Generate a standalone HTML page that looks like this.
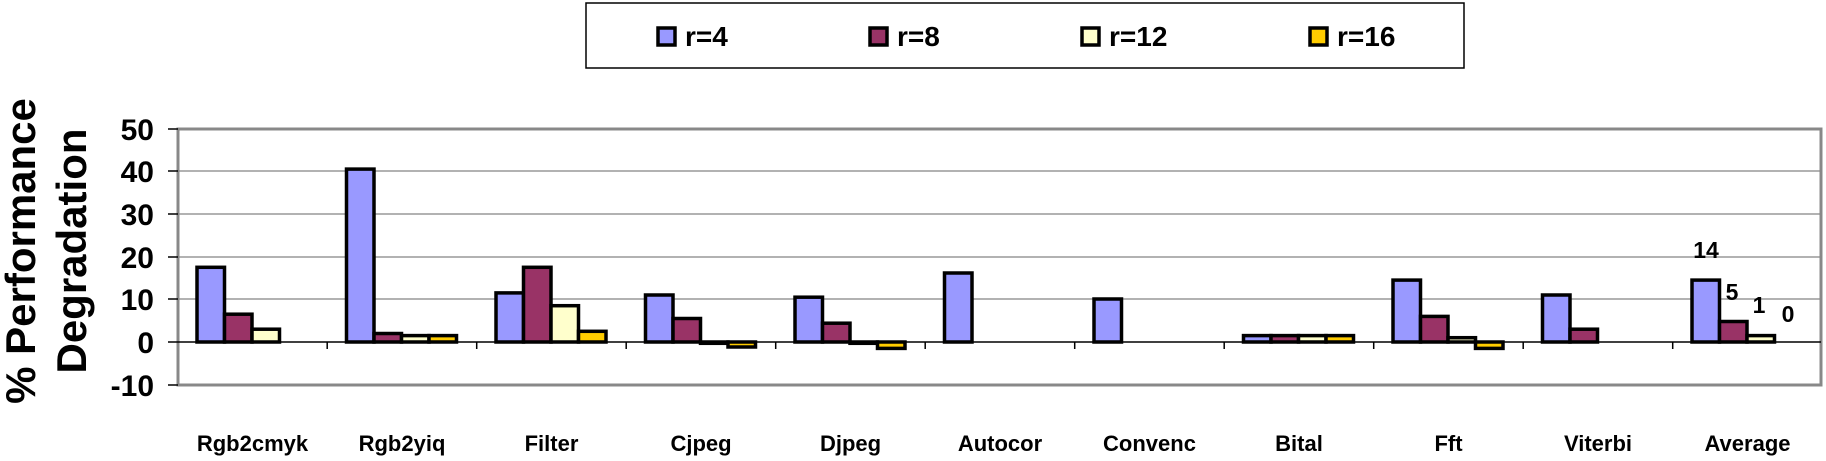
<!DOCTYPE html>
<html><head><meta charset="utf-8"><style>
html,body{margin:0;padding:0;background:#fff;}
svg{display:block;font-family:"Liberation Sans",Arial,sans-serif;font-weight:bold;}
</style></head><body>
<svg width="1826" height="461" viewBox="0 0 1826 461" xmlns="http://www.w3.org/2000/svg">
<rect x="586" y="3" width="878" height="65" fill="#fff" stroke="#000" stroke-width="1.5"/>
<g stroke="#000" stroke-width="3.5">
<rect x="658" y="28" width="17" height="17" fill="#9999FF"/>
<rect x="870" y="28" width="17" height="17" fill="#993366"/>
<rect x="1082" y="28" width="17" height="17" fill="#FFFFCC"/>
<rect x="1310" y="28" width="17" height="17" fill="#FFCC00"/>
</g>
<g font-size="28" fill="#000">
<text x="685" y="46">r=4</text>
<text x="897" y="46">r=8</text>
<text x="1109" y="46">r=12</text>
<text x="1337" y="46">r=16</text>
</g>
<g font-size="42" fill="#000" text-anchor="middle">
<text transform="translate(35,251) rotate(-90)">% Performance</text>
<text transform="translate(86,251) rotate(-90)">Degradation</text>
</g>
<g stroke="#999" stroke-width="1.5">
<line x1="178" y1="171" x2="1821" y2="171"/>
<line x1="178" y1="214" x2="1821" y2="214"/>
<line x1="178" y1="257" x2="1821" y2="257"/>
<line x1="178" y1="299" x2="1821" y2="299"/>
</g>
<rect x="178" y="129" width="1643" height="256" fill="none" stroke="#888" stroke-width="3"/>
<g stroke="#000" stroke-width="1.5">
<line x1="168" y1="129" x2="178" y2="129"/>
<line x1="168" y1="171" x2="178" y2="171"/>
<line x1="168" y1="214" x2="178" y2="214"/>
<line x1="168" y1="257" x2="178" y2="257"/>
<line x1="168" y1="299" x2="178" y2="299"/>
<line x1="168" y1="342" x2="178" y2="342"/>
<line x1="168" y1="385" x2="178" y2="385"/>
</g>
<g font-size="30" fill="#000" text-anchor="end">
<text x="154" y="140">50</text>
<text x="154" y="182">40</text>
<text x="154" y="225">30</text>
<text x="154" y="268">20</text>
<text x="154" y="310">10</text>
<text x="154" y="353">0</text>
<text x="154" y="396">-10</text>
</g>
<g stroke="#000" stroke-width="3.5">
<rect x="197" y="267.3" width="27.5" height="74.7" fill="#9999FF"/>
<rect x="224.5" y="314.2" width="27.5" height="27.8" fill="#993366"/>
<rect x="252" y="329.2" width="27.5" height="12.8" fill="#FFFFCC"/>
<rect x="346.5" y="169.1" width="27.5" height="172.9" fill="#9999FF"/>
<rect x="374" y="333.5" width="27.5" height="8.5" fill="#993366"/>
<rect x="401.5" y="335.6" width="27.5" height="6.4" fill="#FFFFCC"/>
<rect x="429" y="335.6" width="27.5" height="6.4" fill="#FFCC00"/>
<rect x="496" y="292.9" width="27.5" height="49.1" fill="#9999FF"/>
<rect x="523.5" y="267.3" width="27.5" height="74.7" fill="#993366"/>
<rect x="551" y="305.7" width="27.5" height="36.3" fill="#FFFFCC"/>
<rect x="578.5" y="331.3" width="27.5" height="10.7" fill="#FFCC00"/>
<rect x="645.5" y="295" width="27.5" height="47" fill="#9999FF"/>
<rect x="673" y="318.5" width="27.5" height="23.5" fill="#993366"/>
<rect x="700.5" y="342" width="27.5" height="1.3" fill="#FFFFCC"/>
<rect x="728" y="342" width="27.5" height="5" fill="#FFCC00"/>
<rect x="795" y="297.2" width="27.5" height="44.8" fill="#9999FF"/>
<rect x="822.5" y="323.2" width="27.5" height="18.8" fill="#993366"/>
<rect x="850" y="342" width="27.5" height="1.3" fill="#FFFFCC"/>
<rect x="877.5" y="342" width="27.5" height="6.4" fill="#FFCC00"/>
<rect x="944.5" y="273" width="27.5" height="69" fill="#9999FF"/>
<rect x="1094" y="299" width="27.5" height="43" fill="#9999FF"/>
<rect x="1243.5" y="335.6" width="27.5" height="6.4" fill="#9999FF"/>
<rect x="1271" y="335.6" width="27.5" height="6.4" fill="#993366"/>
<rect x="1298.5" y="335.6" width="27.5" height="6.4" fill="#FFFFCC"/>
<rect x="1326" y="335.6" width="27.5" height="6.4" fill="#FFCC00"/>
<rect x="1393" y="280.1" width="27.5" height="61.9" fill="#9999FF"/>
<rect x="1420.5" y="316.4" width="27.5" height="25.6" fill="#993366"/>
<rect x="1448" y="337.7" width="27.5" height="4.3" fill="#FFFFCC"/>
<rect x="1475.5" y="342" width="27.5" height="6.4" fill="#FFCC00"/>
<rect x="1542.5" y="295" width="27.5" height="47" fill="#9999FF"/>
<rect x="1570" y="329.2" width="27.5" height="12.8" fill="#993366"/>
<rect x="1692" y="280.1" width="27.5" height="61.9" fill="#9999FF"/>
<rect x="1719.5" y="321.5" width="27.5" height="20.5" fill="#993366"/>
<rect x="1747" y="335.6" width="27.5" height="6.4" fill="#FFFFCC"/>
</g>
<g stroke="#000" stroke-width="1.5">
<line x1="178" y1="342" x2="1821" y2="342"/>
<line x1="327.2" y1="342" x2="327.2" y2="349"/>
<line x1="476.7" y1="342" x2="476.7" y2="349"/>
<line x1="626.2" y1="342" x2="626.2" y2="349"/>
<line x1="775.7" y1="342" x2="775.7" y2="349"/>
<line x1="925.2" y1="342" x2="925.2" y2="349"/>
<line x1="1074.7" y1="342" x2="1074.7" y2="349"/>
<line x1="1224.2" y1="342" x2="1224.2" y2="349"/>
<line x1="1373.7" y1="342" x2="1373.7" y2="349"/>
<line x1="1523.2" y1="342" x2="1523.2" y2="349"/>
<line x1="1672.7" y1="342" x2="1672.7" y2="349"/>
</g>
<g font-size="23" fill="#000" text-anchor="middle">
<text x="1706" y="258">14</text>
<text x="1732" y="300">5</text>
<text x="1759" y="313">1</text>
<text x="1788" y="322">0</text>
</g>
<g font-size="22" fill="#000" text-anchor="middle">
<text x="252.5" y="451">Rgb2cmyk</text>
<text x="402" y="451">Rgb2yiq</text>
<text x="551.5" y="451">Filter</text>
<text x="701" y="451">Cjpeg</text>
<text x="850.5" y="451">Djpeg</text>
<text x="1000" y="451">Autocor</text>
<text x="1149.5" y="451">Convenc</text>
<text x="1299" y="451">Bital</text>
<text x="1448.5" y="451">Fft</text>
<text x="1598" y="451">Viterbi</text>
<text x="1747.5" y="451">Average</text>
</g>
</svg>
</body></html>
